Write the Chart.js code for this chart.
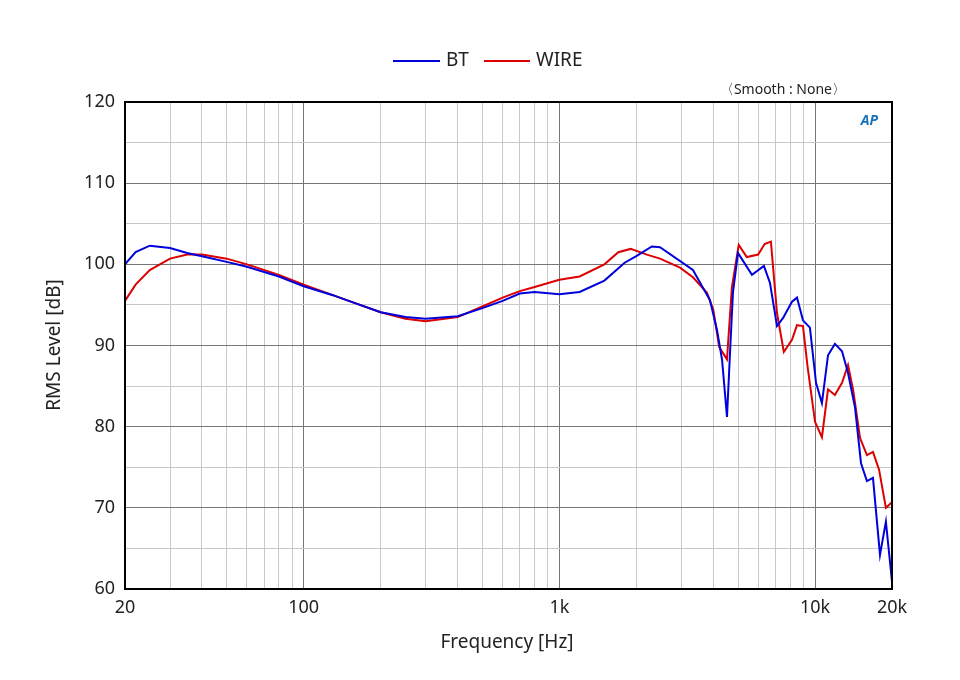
<!DOCTYPE html>
<html><head><meta charset="utf-8">
<script src="https://cdn.jsdelivr.net/npm/chart.js@4"></script>
<style>html,body{margin:0;padding:0;background:#fff}#w{width:960px;height:680px}</style>
</head><body><div id="w"><canvas id="c" width="960" height="680"></canvas></div>
<script>
const btFreq=[20,22,25,30,35,40,50,60,80,100,130,150,200,250,300,400,500,600,700,800,1000,1200,1500,1800,2000,2300,2475,3330,3880,4137,4330,4525,4650,4775,4995,5665,6310,6665,7100,7500,8125,8500,8970,9550,10090,10640,11240,11960,12750,13460,14330,15130,15960,16850,17950,18930,20000];
const btDb=[100,101.5,102.3,102.0,101.4,101.0,100.3,99.7,98.5,97.3,96.2,95.5,94.1,93.5,93.3,93.6,94.6,95.5,96.4,96.6,96.3,96.6,98.0,100.2,101.0,102.2,102.1,99.3,95.6,91.9,88.2,81.2,89.1,96.5,101.4,98.7,99.8,97.7,92.4,93.4,95.4,95.9,93.1,92.2,85.4,82.9,88.8,90.2,89.3,86.6,82.4,75.5,73.3,73.7,64.2,68.3,60.9];
const wireFreq=[20,22,25,30,35,40,50,60,80,100,130,150,200,250,300,400,500,600,700,800,1000,1200,1500,1700,1900,2200,2475,2965,3330,3780,4000,4220,4525,4730,5030,5410,5990,6350,6720,7100,7550,8125,8500,8970,9350,10000,10640,11240,11960,12750,13460,14100,15000,15960,16850,17800,18930,20000];
const wireDb=[95.5,97.5,99.3,100.7,101.2,101.2,100.7,100.0,98.7,97.5,96.2,95.5,94.1,93.3,93.0,93.5,94.8,95.9,96.7,97.2,98.1,98.5,100.0,101.5,101.9,101.2,100.7,99.6,98.4,96.5,94.4,89.8,88.3,97.2,102.4,100.9,101.2,102.5,102.8,94.0,89.2,90.7,92.5,92.4,87.4,80.6,78.7,84.6,83.9,85.4,87.6,84.5,78.6,76.5,76.9,74.7,70.0,70.7];
const xLabels={20:'20',100:'100',1000:'1k',10000:'10k',20000:'20k'};
const yTicks=[60,65,70,75,80,85,90,95,100,105,110,115,120];

const xt=[];
for(const d of [10,100,1000,10000]) for(let m=1;m<10;m++){const v=d*m; if(v>=20&&v<=20000) xt.push(v);}
const toPts=(f,d)=>f.map((x,i)=>({x:x,y:d[i]}));
const deco={id:'deco',afterDraw(ch){const c=ch.ctx,a=ch.chartArea;c.save();
 c.strokeStyle='#000';c.lineWidth=2;c.strokeRect(a.left,a.top,a.right-a.left,a.bottom-a.top);
 c.font='19px "Noto Sans", "DejaVu Sans", sans-serif';c.fillStyle='#222';c.textBaseline='middle';
 c.lineWidth=2;c.strokeStyle='#0000dd';c.beginPath();c.moveTo(393,61);c.lineTo(440,61);c.stroke();
 c.fillText('BT',446,61);
 c.strokeStyle='#dd0000';c.beginPath();c.moveTo(484,61);c.lineTo(530,61);c.stroke();
 c.fillText('WIRE',536,61);
 c.font='14px "Noto Sans", sans-serif';c.textAlign='right';c.fillText('〈Smooth : None〉',846,90);
 c.font='italic bold 14px "Noto Sans", sans-serif';c.fillStyle='#1a73b8';c.fillText('AP',878,121);
 c.fillStyle='#222';c.textAlign='center';c.font='19px "Noto Sans", sans-serif';
 c.fillText('Frequency [Hz]',507,643);
 c.translate(55,345);c.rotate(-Math.PI/2);c.fillText('RMS Level [dB]',0,0);
 c.restore();}};
new Chart(document.getElementById('c'),{type:'line',
 data:{datasets:[
  {label:'BT',data:toPts(btFreq,btDb),borderColor:'#0000dd',borderWidth:2,pointRadius:0,tension:0},
  {label:'WIRE',data:toPts(wireFreq,wireDb),borderColor:'#dd0000',borderWidth:2,pointRadius:0,tension:0}]},
 options:{responsive:false,animation:false,devicePixelRatio:1,
  layout:{padding:{top:102,right:68,left:0,bottom:0}},
  plugins:{legend:{display:false},tooltip:{enabled:false}},
  scales:{
   x:{type:'logarithmic',min:20,max:20000,
    afterBuildTicks(s){s.ticks=xt.map(v=>({value:v}));},
    afterFit(s){s.height=91;},
    ticks:{autoSkip:false,maxRotation:0,padding:8,color:'#222',font:{size:18,family:'"Noto Sans", sans-serif'},callback:v=>xLabels[v]||''},
    grid:{drawTicks:false,color:c=>{const v=c.tick&&c.tick.value;return [20,100,1000,10000,20000].includes(v)?'#777':'#c8c8c8';},lineWidth:1},border:{display:false}},
   y:{min:60,max:120,
    afterBuildTicks(s){s.ticks=yTicks.map(v=>({value:v}));},
    afterFit(s){s.width=125;},
    ticks:{padding:10,color:'#222',font:{size:18,family:'"Noto Sans", sans-serif'},callback:v=>v%10===0?String(v):''},
    grid:{drawTicks:false,color:c=>(c.tick&&c.tick.value%10===0)?'#777':'#c8c8c8',lineWidth:1},border:{display:false}}}},
 plugins:[deco]});
</script></body></html>
